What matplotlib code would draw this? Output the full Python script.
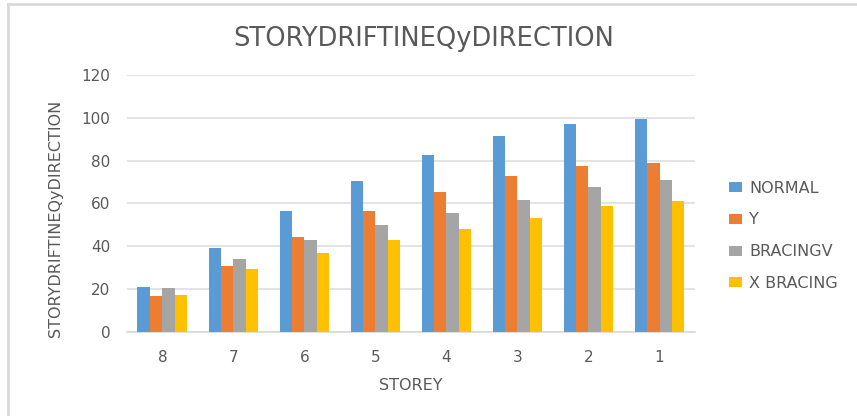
import numpy as np
import matplotlib.pyplot as plt
from matplotlib.lines import Line2D

plt.rcParams['font.family'] = ['DejaVu Sans']

# data
storeys = ['8', '7', '6', '5', '4', '3', '2', '1']
normal = [21.1, 39.1, 56.4, 70.7, 82.6, 91.6, 96.9, 99.2]
y_sys = [16.6, 30.9, 44.4, 56.4, 65.5, 73.0, 77.5, 79.0]
bracing_v = [20.3, 33.9, 42.9, 49.7, 55.7, 61.8, 67.7, 70.8]
x_bracing = [17.4, 29.3, 37.0, 42.9, 48.1, 53.4, 58.7, 60.9]

series = [('NORMAL', normal, '#5b9bd5'),
          ('Y', y_sys, '#ed7d31'),
          ('BRACINGV', bracing_v, '#a5a5a5'),
          ('X BRACING', x_bracing, '#ffc000')]

txt = '#595959'

fig = plt.figure(figsize=(8.57, 4.16), dpi=100)
ax = fig.add_axes([0.148, 0.202, 0.663, 0.618])

x = np.arange(len(storeys))
w = 0.175
for i, (name, vals, col) in enumerate(series):
    ax.bar(x + (i - 1.5) * w, vals, w, color=col, label=name, zorder=3)

ax.set_xlim(-0.5, len(storeys) - 0.5)
ax.set_ylim(0, 120)
ax.set_yticks(range(0, 121, 20))
ax.set_xticks(x)
ax.set_xticklabels(storeys)
ax.grid(axis='y', color='#dedede', linewidth=1.2, zorder=0)
for s in ['top', 'right', 'left']:
    ax.spines[s].set_visible(False)
ax.spines['bottom'].set_color('#d9d9d9')
ax.spines['bottom'].set_linewidth(1.2)
ax.tick_params(length=0, colors=txt, labelsize=11)
ax.tick_params(axis='x', pad=13)
ax.tick_params(axis='y', pad=12)

ax.set_xlabel('STOREY', color=txt, fontsize=11.5, labelpad=9)
ax.set_ylabel('STORYDRIFTINEQyDIRECTION', color=txt, fontsize=11.5)
ax.yaxis.set_label_coords(-0.113, 0.44)
fig.text(0.494, 0.907, 'STORYDRIFTINEQyDIRECTION', ha='center', va='center',
         color=txt, fontsize=18.5)

leg = ax.legend(loc='center left', bbox_to_anchor=(0.851, 0.433),
                bbox_transform=fig.transFigure, frameon=False,
                fontsize=11.5, labelcolor=txt, handlelength=0.8, handleheight=0.6,
                labelspacing=1.05, handletextpad=0.45, borderpad=0, borderaxespad=0)

# chart border (only left and top edges visible)
fig.add_artist(Line2D([8 / 857, 8 / 857], [0, 1 - 4 / 416], color='#d9d9d9', lw=2))
fig.add_artist(Line2D([8 / 857, 1], [1 - 4 / 416, 1 - 4 / 416], color='#d9d9d9', lw=2))

fig.savefig('out.png', dpi=100)
